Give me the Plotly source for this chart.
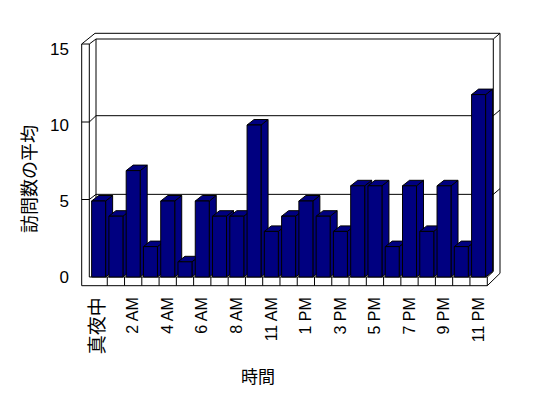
import plotly.graph_objects as go

# ---- data ----
hour_labels = ["真夜中", "1 AM", "2 AM", "3 AM", "4 AM", "5 AM", "6 AM", "7 AM", "8 AM",
               "9 AM", "11 AM", "正午", "1 PM", "2 PM", "3 PM", "4 PM", "5 PM", "6 PM",
               "7 PM", "8 PM", "9 PM", "10 PM", "11 PM"]
avg_visits = [5, 4, 7, 2, 5, 1, 5, 4, 4, 10, 3, 4, 5, 4, 3, 6, 6, 2, 6, 3, 6, 2, 12]
y_ticks = [0, 5, 10, 15]
x_title = "時間"
y_title = "訪問数の平均"

# ---- layout geometry (page pixels) ----
W, H = 548, 398
OFF = 8                                     # default page body margin
PL, PR, PT, PB = 81, 502, 26, 291          # plot area (page px)
XPX = 17.27                                 # px per category
X0PX = 90                                   # px of category -0.5
YPX = 15.2                                  # px per value unit
Y0PX = 277                                  # px of value 0

x_lo = -0.5 - (X0PX - PL) / XPX
x_hi = x_lo + (PR - PL) / XPX
y_lo = -(PB - Y0PX) / YPX
y_hi = y_lo + (PB - PT) / YPX


def px2x(p):
    return x_lo + (p - PL) / XPX


def px2y(p):
    return (Y0PX - p) / YPX


NAVY = "#000080"
n = len(avg_visits)
idx = list(range(n))
bw = 14 / XPX
dx = 7 / XPX
dy = 5.5 / YPX

shapes = []


def seg(x0, y0, x1, y1):
    shapes.append(dict(type="line", xref="x", yref="y", layer="below",
                       x0=px2x(x0), y0=px2y(y0), x1=px2x(x1), y1=px2y(y1),
                       line=dict(color="black", width=1)))


# left wall
seg(81.7, 44, 81.7, 285.7)
seg(89.3, 44, 89.3, 277)
seg(96, 39, 96, 273)
seg(81.7, 44, 89.3, 44)
seg(81.7, 44, 95, 33.3)
seg(89.3, 44, 96, 39)
# back wall
seg(95, 33.3, 500, 33.3)
seg(96, 39, 493.3, 39)
seg(493.3, 39, 500, 33.3)
seg(493.3, 39, 493.3, 271.5)
seg(500, 33.3, 500, 273.3)
# floor
seg(81.7, 285.7, 487.3, 285.7)
seg(89.3, 277, 487.3, 277)
seg(487.3, 277, 487.3, 285.7)
seg(487.3, 285.7, 500, 273.3)
seg(487.3, 277, 493.3, 271.5)
for k in range(1, n):
    bx = X0PX + k * XPX
    seg(bx, 277, bx, 285.7)
# gridlines on walls
for v in y_ticks[1:-1]:
    yf = Y0PX - 15.5 * v
    yb = 273 - 15.73 * v
    seg(81.7, yf, 89.3, yf)
    seg(89.3, yf, 96, yb)
    seg(96, yb, 493.3, yb)
    seg(493.3, yb, 500, yb - 5.7)

# 3D bar tops and sides
for i, v in zip(idx, avg_visits):
    xl, xr = i - bw / 2, i + bw / 2
    top = (f"M {xl},{v} L {xl + dx},{v + dy} L {xr + dx},{v + dy} L {xr},{v} Z")
    side = (f"M {xr},0 L {xr},{v} L {xr + dx},{v + dy} L {xr + dx},{dy} Z")
    for p in (side, top):
        shapes.append(dict(type="path", xref="x", yref="y", layer="below", path=p,
                           fillcolor=NAVY, line=dict(color="black", width=1)))

fig = go.Figure(go.Bar(
    x=idx, y=avg_visits, width=bw,
    marker=dict(color=NAVY, line=dict(color="black", width=1)),
    hoverinfo="skip",
))

tick_text = [f'<span style="font-size:19px">{t}</span>' if not t.isascii() else t
             for t in hour_labels[::2]]

FONT = "Liberation Sans, Arial, Noto Sans CJK JP, sans-serif"
fig.update_layout(
    width=W - OFF, height=H - OFF, autosize=False,
    margin=dict(l=PL - OFF, r=W - PR, t=PT - OFF, b=H - PB, pad=0),
    paper_bgcolor="white", plot_bgcolor="white",
    showlegend=False, shapes=shapes,
    font=dict(family=FONT, size=16, color="black"),
    xaxis=dict(range=[x_lo, x_hi], showgrid=False, zeroline=False, showline=False,
               tickmode="array", tickvals=idx[::2], ticktext=tick_text,
               tickangle=-90, ticks="", ticklabelstandoff=2,
               tickfont=dict(family=FONT, size=16, color="black")),
    yaxis=dict(range=[y_lo, y_hi], showgrid=False, zeroline=False, showline=False,
               tickmode="array", tickvals=y_ticks, ticktext=[str(t) for t in y_ticks],
               ticks="", ticklabelstandoff=11,
               tickfont=dict(family=FONT, size=17, color="black")),
    annotations=[
        dict(text=x_title, xref="paper", yref="paper",
             x=(258 - PL) / (PR - PL), y=(PB - 375) / (PB - PT),
             showarrow=False, xanchor="center", yanchor="middle",
             font=dict(family="Noto Sans CJK JP", size=17)),
        dict(text=y_title, xref="paper", yref="paper",
             x=(28 - PL) / (PR - PL), y=(PB - 179) / (PB - PT),
             showarrow=False, xanchor="center", yanchor="middle", textangle=-90,
             font=dict(family="Noto Sans CJK JP", size=18)),
    ],
)

fig.write_html("out.html")
